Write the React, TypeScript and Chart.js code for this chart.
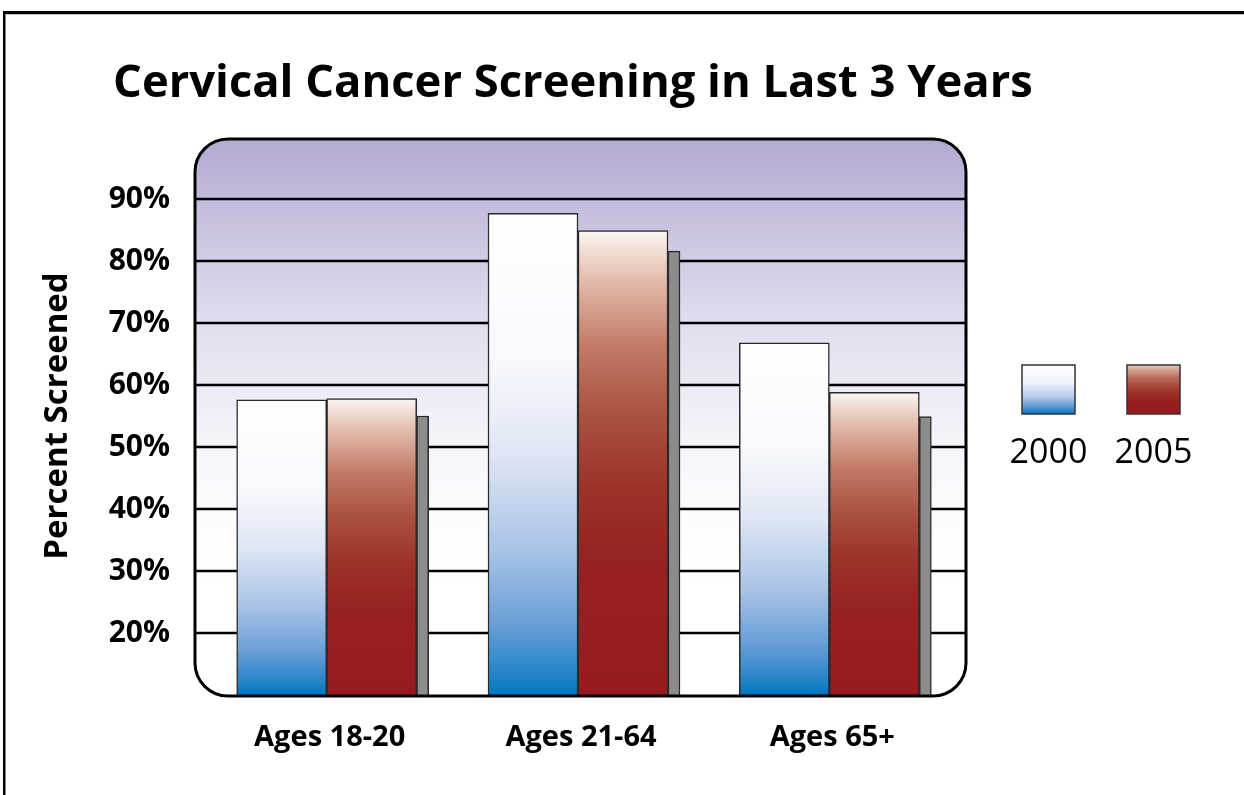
import React, { useEffect, useRef } from 'react';
import { Chart, registerables } from 'chart.js';

Chart.register(...registerables);

// ---- data ----
const categories = ['Ages 18-20', 'Ages 21-64', 'Ages 65+'];
const seriesNames = ['2000', '2005'];
const values2000 = [57.6, 87.7, 66.8];
const values2005 = [57.8, 84.9, 58.8];
const valuesShadow = [55.0, 81.6, 54.9];
const yTicks = [20, 30, 40, 50, 60, 70, 80, 90];
const yMin = 10;
const yMax = 100;
const titleText = 'Cervical Cancer Screening in Last 3 Years';
const yTitleText = 'Percent Screened';

const FONT = "'Open Sans', 'Noto Sans', sans-serif";

const blueStops: [number, string][] = [
  [0, '#ffffff'],
  [0.3, '#f8f9fd'],
  [0.5, '#dfe6f4'],
  [0.7, '#a9c3e6'],
  [0.85, '#6a9fd7'],
  [0.95, '#2a86c9'],
  [1, '#0076c0'],
];
const redStops: [number, string][] = [
  [0, '#fbf5f2'],
  [0.1, '#e3bfb0'],
  [0.25, '#c27a67'],
  [0.4, '#a9513f'],
  [0.55, '#9c3329'],
  [0.7, '#972222'],
  [1, '#951b1f'],
];

function barGradient(stops: [number, string][]) {
  return (c: any) => {
    const chart = c.chart;
    const ys = chart.scales && chart.scales.y;
    if (!chart.chartArea || !ys || c.type !== 'data' || !c.parsed) return stops[stops.length - 1][1];
    const top = ys.getPixelForValue(c.parsed.y);
    const bottom = ys.getPixelForValue(ys.min);
    const g = chart.ctx.createLinearGradient(0, top, 0, bottom);
    stops.forEach(([o, col]) => g.addColorStop(o, col));
    return g;
  };
}

function roundRectPath(ctx: CanvasRenderingContext2D, x: number, y: number, w: number, h: number, r: number) {
  ctx.beginPath();
  ctx.moveTo(x + r, y);
  ctx.lineTo(x + w - r, y);
  ctx.arcTo(x + w, y, x + w, y + r, r);
  ctx.lineTo(x + w, y + h - r);
  ctx.arcTo(x + w, y + h, x + w - r, y + h, r);
  ctx.lineTo(x + r, y + h);
  ctx.arcTo(x, y + h, x, y + h - r, r);
  ctx.lineTo(x, y + r);
  ctx.arcTo(x, y, x + r, y, r);
  ctx.closePath();
}

function plotBox(chart: any) {
  const a = chart.chartArea;
  return { x: a.left - 6, y: a.top + 2, w: a.right - a.left + 17, h: a.bottom - a.top - 1 };
}

const shadowPlugin = {
  id: 'shadowShift',
  afterDatasetsUpdate(chart: any) {
    const m2005 = chart.getDatasetMeta(1);
    const mShadow = chart.getDatasetMeta(2);
    mShadow.data.forEach((el: any, i: number) => {
      const ref = m2005.data[i];
      if (!ref) return;
      el.x = ref.x + ref.width / 2 + el.width / 2;
    });
  },
};

const decorPlugin = {
  id: 'decor',
  beforeDraw(chart: any) {
    const ctx: CanvasRenderingContext2D = chart.ctx;
    const W = chart.width;
    const H = chart.height;
    ctx.save();
    ctx.fillStyle = '#ffffff';
    ctx.fillRect(0, 0, W, H);
    // outer frame
    ctx.fillStyle = '#000000';
    ctx.fillRect(3, 11, W - 3, 3);
    ctx.fillRect(3, 11, 2.5, H - 11);
    ctx.fillStyle = '#bdbdbd';
    ctx.fillRect(5.5, 14, W - 5.5, 1);

    // title
    let size = 50;
    ctx.font = `bold ${size}px ${FONT}`;
    const w = ctx.measureText(titleText).width;
    size = Math.min(54, (size * 920) / w);
    ctx.font = `bold ${size}px ${FONT}`;
    ctx.fillStyle = '#000000';
    ctx.textBaseline = 'alphabetic';
    ctx.textAlign = 'left';
    ctx.fillText(titleText, 113, 97);

    // plot background
    const b = plotBox(chart);
    const g = ctx.createLinearGradient(0, b.y, 0, b.y + b.h);
    g.addColorStop(0, '#b3aad0');
    g.addColorStop(0.11, '#c3bbdb');
    g.addColorStop(0.22, '#d3cde5');
    g.addColorStop(0.33, '#e1ddee');
    g.addColorStop(0.44, '#ece9f4');
    g.addColorStop(0.55, '#f6f5fa');
    g.addColorStop(0.7, '#fdfdfe');
    g.addColorStop(0.8, '#ffffff');
    g.addColorStop(1, '#ffffff');
    roundRectPath(ctx, b.x, b.y, b.w, b.h, 33);
    ctx.fillStyle = g;
    ctx.fill();

    // grid lines from the y scale
    const ys = chart.scales.y;
    ctx.strokeStyle = '#000000';
    ctx.lineWidth = 2.5;
    ys.ticks.forEach((t: any) => {
      if (!yTicks.includes(t.value)) return;
      const py = Math.round(ys.getPixelForValue(t.value));
      ctx.beginPath();
      ctx.moveTo(b.x, py);
      ctx.lineTo(b.x + b.w, py);
      ctx.stroke();
    });
    ctx.restore();
  },
  afterDatasetsDraw(chart: any) {
    const ctx: CanvasRenderingContext2D = chart.ctx;
    ctx.save();
    const b = plotBox(chart);
    roundRectPath(ctx, b.x, b.y, b.w, b.h, 33);
    ctx.strokeStyle = '#000000';
    ctx.lineWidth = 3;
    ctx.stroke();

    // legend
    const boxes = [
      { x: 1022, stops: [[0, '#ffffff'], [0.35, '#f2f4fb'], [0.65, '#b5cbea'], [0.85, '#5d97d4'], [1, '#0076c0']] },
      { x: 1127, stops: [[0, '#e8c6b8'], [0.25, '#bb6e5c'], [0.5, '#a03a2e'], [0.75, '#961f21'], [1, '#951b1f']] },
    ];
    const by = 365;
    const bw = 53;
    const bh = 49;
    boxes.forEach((bx, i) => {
      const lg = ctx.createLinearGradient(0, by, 0, by + bh);
      (bx.stops as [number, string][]).forEach(([o, c]) => lg.addColorStop(o, c));
      ctx.fillStyle = lg;
      ctx.fillRect(bx.x, by, bw, bh);
      ctx.strokeStyle = '#333333';
      ctx.lineWidth = 1.5;
      ctx.strokeRect(bx.x, by, bw, bh);
      ctx.fillStyle = '#000000';
      ctx.font = `34px ${FONT}`;
      ctx.textAlign = 'center';
      ctx.textBaseline = 'alphabetic';
      ctx.fillText(chart.data.datasets[i].label, bx.x + bw / 2, 463);
    });
    ctx.restore();
  },
};

export default function App() {
  const ref = useRef<HTMLCanvasElement>(null);
  useEffect(() => {
    document.body.style.margin = '0';
    const canvas = ref.current;
    if (!canvas) return;
    const chart = new Chart(canvas, {
      type: 'bar',
      data: {
        labels: categories,
        datasets: [
          {
            label: seriesNames[0],
            data: values2000,
            backgroundColor: barGradient(blueStops),
            borderColor: '#2b2b2b',
            borderWidth: 1.5,
            barThickness: 90,
          },
          {
            label: seriesNames[1],
            data: values2005,
            backgroundColor: barGradient(redStops),
            borderColor: '#2b2b2b',
            borderWidth: 1.5,
            barThickness: 90,
          },
          {
            label: 'shadow',
            data: valuesShadow,
            backgroundColor: '#8c8c8c',
            borderColor: '#2b2b2b',
            borderWidth: 1.5,
            barThickness: 12,
            grouped: false,
          } as any,
        ],
      },
      options: {
        responsive: false,
        animation: false,
        events: [],
        layout: { padding: { left: 0, right: 289, top: 137, bottom: 0 } },
        plugins: {
          legend: { display: false },
          tooltip: { enabled: false },
          title: { display: false },
        },
        scales: {
          x: {
            grid: { display: false, drawTicks: false },
            border: { display: false },
            ticks: {
              color: '#000000',
              font: { family: FONT, weight: 'bold', size: 29 },
              padding: 25,
              labelOffset: 3,
            },
            afterFit: (s: any) => {
              s.height = 100;
            },
          },
          y: {
            min: yMin,
            max: yMax,
            grid: { display: false, drawTicks: false },
            border: { display: false },
            afterBuildTicks: (s: any) => {
              s.ticks = [yMin, ...yTicks, yMax].map((value) => ({ value }));
            },
            ticks: {
              color: '#000000',
              font: { family: FONT, weight: 'bold', size: 30 },
              padding: 31,
              callback: (v: any) => (yTicks.includes(Number(v)) ? `${v}%` : ''),
            },
            title: {
              display: true,
              text: yTitleText,
              color: '#000000',
              font: { family: FONT, weight: 'bold', size: 33 },
              padding: { top: 38, bottom: 0 },
            },
            afterFit: (s: any) => {
              s.width = 201;
            },
          },
        },
      },
      plugins: [shadowPlugin, decorPlugin],
    });
    return () => chart.destroy();
  }, []);
  return <canvas ref={ref} width={1244} height={795} style={{ display: 'block' }} />;
}
